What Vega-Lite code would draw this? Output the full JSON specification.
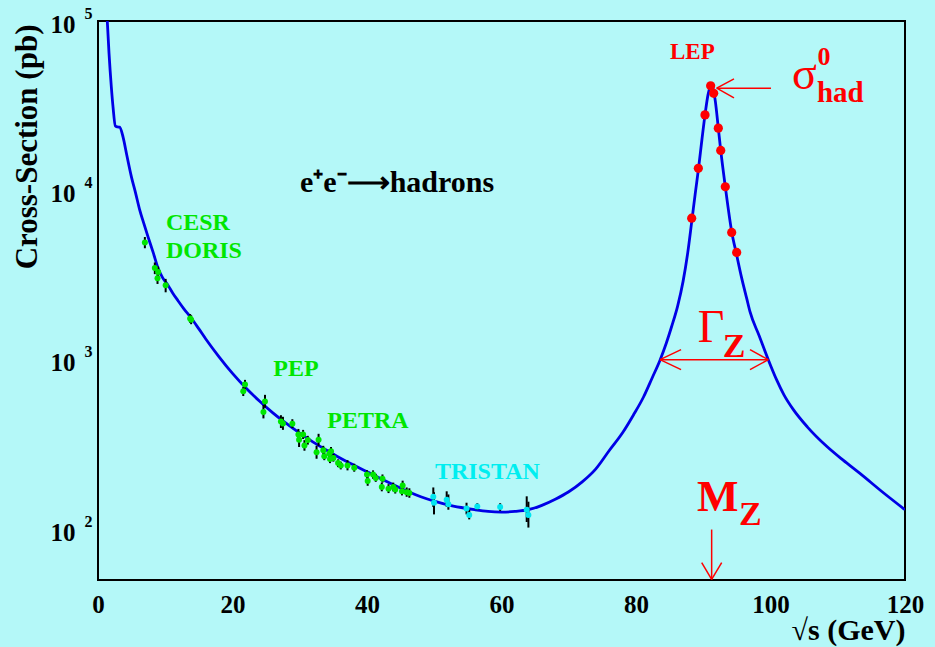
{
  "$schema": "https://vega.github.io/schema/vega-lite/v6.json",
  "width": 807,
  "height": 559,
  "autosize": {"type": "none"},
  "padding": {"left": 98, "top": 21, "right": 30, "bottom": 67},
  "background": "#b4f8f8",
  "config": {
    "view": {"stroke": "#000000", "strokeWidth": 2},
    "axis": {"grid": false, "domain": false, "ticks": false, "labelColor": "#000000", "labelFont": "Liberation Serif", "labelFontWeight": "bold", "titleFont": "Liberation Serif", "titleFontWeight": "bold", "titleColor": "#000000", "labelFlush": false, "labelOverlap": false, "labelBound": false},
    "text": {"font": "Liberation Serif"}
  },
  "datasets": {
    "curve": [
      {"x": 1.2, "s": 131000}, {"x": 1.38, "s": 100000}, {"x": 1.64, "s": 64400}, {"x": 1.98, "s": 40900}, {"x": 2.23, "s": 31200}, {"x": 2.58, "s": 24000}, {"x": 2.9, "s": 23700}, {"x": 3.22, "s": 23600}, {"x": 3.72, "s": 20700}, {"x": 4.3, "s": 16000}, {"x": 4.96, "s": 12060}, {"x": 5.6, "s": 9600}, {"x": 6.2, "s": 7670}, {"x": 6.8, "s": 6400}, {"x": 7.43, "s": 5330}, {"x": 8.2, "s": 4300}, {"x": 8.92, "s": 3480}, {"x": 9.6, "s": 3050}, {"x": 10.41, "s": 2750}, {"x": 11.1, "s": 2480}, {"x": 11.9, "s": 2230}, {"x": 12.8, "s": 1990}, {"x": 13.78, "s": 1780}, {"x": 15, "s": 1520}, {"x": 16, "s": 1330}, {"x": 18, "s": 1040}, {"x": 20, "s": 830}, {"x": 22, "s": 680}, {"x": 24, "s": 570}, {"x": 26, "s": 485}, {"x": 28, "s": 420}, {"x": 30, "s": 368}, {"x": 32, "s": 326}, {"x": 34, "s": 292}, {"x": 36, "s": 263}, {"x": 38, "s": 239}, {"x": 40, "s": 218}, {"x": 42, "s": 199}, {"x": 44, "s": 182}, {"x": 46, "s": 167}, {"x": 48, "s": 155}, {"x": 50, "s": 146}, {"x": 52, "s": 139}, {"x": 54, "s": 134}, {"x": 56, "s": 130}, {"x": 58, "s": 127}, {"x": 60, "s": 126}, {"x": 62, "s": 127}, {"x": 64, "s": 130}, {"x": 66, "s": 138}, {"x": 68, "s": 150}, {"x": 70, "s": 166}, {"x": 72, "s": 190}, {"x": 74, "s": 226}, {"x": 76, "s": 290}, {"x": 78, "s": 370}, {"x": 79.6, "s": 470}, {"x": 81.1, "s": 600}, {"x": 82.4, "s": 780}, {"x": 83.6, "s": 1000}, {"x": 84.5, "s": 1250}, {"x": 85.3, "s": 1570}, {"x": 86.2, "s": 2080}, {"x": 87.0, "s": 2900}, {"x": 87.7, "s": 4300}, {"x": 88.3, "s": 6600}, {"x": 88.8, "s": 9500}, {"x": 89.3, "s": 13500}, {"x": 89.8, "s": 19900}, {"x": 90.26, "s": 27900}, {"x": 90.7, "s": 36500}, {"x": 91.0, "s": 40500}, {"x": 91.25, "s": 41500}, {"x": 91.5, "s": 39500}, {"x": 91.8, "s": 33500}, {"x": 92.24, "s": 23300}, {"x": 92.6, "s": 17200}, {"x": 93.28, "s": 10500}, {"x": 94.23, "s": 5700}, {"x": 94.97, "s": 4150}, {"x": 95.7, "s": 3050}, {"x": 96.46, "s": 2300}, {"x": 96.95, "s": 1920}, {"x": 98.3, "s": 1390}, {"x": 99.67, "s": 1000}, {"x": 100.9, "s": 762}, {"x": 102, "s": 620}, {"x": 103.4, "s": 507}, {"x": 105.5, "s": 400}, {"x": 108.35, "s": 308}, {"x": 110.8, "s": 255}, {"x": 113.3, "s": 213}, {"x": 116.6, "s": 166}, {"x": 120, "s": 130}
    ],
    "lowe": [
      {"x": 6.97, "s": 4920, "lo": 4550, "hi": 5300}, {"x": 8.45, "s": 3480, "lo": 3200, "hi": 3750}, {"x": 8.95, "s": 3300, "lo": 3050, "hi": 3550}, {"x": 8.85, "s": 3030, "lo": 2800, "hi": 3300}, {"x": 10.06, "s": 2750, "lo": 2500, "hi": 3000}, {"x": 13.7, "s": 1750, "lo": 1650, "hi": 1860}, {"x": 13.85, "s": 1720, "lo": 1620, "hi": 1830},
      {"x": 21.86, "s": 713, "lo": 670, "hi": 760}, {"x": 21.6, "s": 650, "lo": 610, "hi": 690}, {"x": 24.83, "s": 567, "lo": 520, "hi": 620}, {"x": 24.6, "s": 491, "lo": 450, "hi": 540}, {"x": 27.2, "s": 432, "lo": 395, "hi": 470}, {"x": 27.5, "s": 420, "lo": 385, "hi": 460}, {"x": 28.9, "s": 419, "lo": 395, "hi": 445}, {"x": 29.8, "s": 361, "lo": 335, "hi": 390}, {"x": 29.9, "s": 337, "lo": 305, "hi": 370}, {"x": 30.5, "s": 361, "lo": 340, "hi": 385}, {"x": 30.7, "s": 311, "lo": 290, "hi": 335}, {"x": 31.2, "s": 335, "lo": 315, "hi": 355}, {"x": 32.5, "s": 284, "lo": 260, "hi": 310}, {"x": 32.8, "s": 337, "lo": 310, "hi": 365}, {"x": 33.5, "s": 292, "lo": 275, "hi": 310}, {"x": 33.65, "s": 269, "lo": 255, "hi": 285}, {"x": 34.4, "s": 279, "lo": 265, "hi": 295}, {"x": 34.65, "s": 288, "lo": 270, "hi": 305}, {"x": 34.5, "s": 259, "lo": 245, "hi": 275}, {"x": 35.0, "s": 263, "lo": 250, "hi": 278}, {"x": 35.7, "s": 245, "lo": 232, "hi": 258}, {"x": 36.1, "s": 237, "lo": 225, "hi": 250}, {"x": 37.1, "s": 237, "lo": 222, "hi": 255}, {"x": 38.1, "s": 230, "lo": 218, "hi": 243}, {"x": 40.0, "s": 210, "lo": 198, "hi": 222}, {"x": 40.1, "s": 192, "lo": 180, "hi": 205}, {"x": 40.9, "s": 210, "lo": 198, "hi": 222}, {"x": 41.3, "s": 200, "lo": 190, "hi": 212}, {"x": 42.3, "s": 198, "lo": 188, "hi": 210}, {"x": 42.2, "s": 177, "lo": 167, "hi": 188}, {"x": 43.2, "s": 173, "lo": 163, "hi": 184}, {"x": 43.9, "s": 177, "lo": 167, "hi": 188}, {"x": 44.2, "s": 171, "lo": 162, "hi": 181}, {"x": 45.3, "s": 181, "lo": 170, "hi": 193}, {"x": 45.2, "s": 167, "lo": 158, "hi": 177}, {"x": 45.9, "s": 165, "lo": 155, "hi": 176}, {"x": 46.3, "s": 163, "lo": 153, "hi": 174}
    ],
    "tristan": [
      {"x": 49.86, "s": 155, "lo": 135, "hi": 176}, {"x": 49.96, "s": 143, "lo": 122, "hi": 165}, {"x": 51.85, "s": 149, "lo": 135, "hi": 167}, {"x": 52.1, "s": 140, "lo": 130, "hi": 160}, {"x": 54.8, "s": 132, "lo": 122, "hi": 143}, {"x": 55.2, "s": 121, "lo": 114, "hi": 130}, {"x": 56.4, "s": 136, "lo": 130, "hi": 142}, {"x": 59.8, "s": 135, "lo": 128, "hi": 142}, {"x": 63.75, "s": 130, "lo": 110, "hi": 156}, {"x": 64.0, "s": 121, "lo": 102, "hi": 145}
    ],
    "lep": [
      {"x": 88.28, "s": 6850}, {"x": 89.27, "s": 13500}, {"x": 90.26, "s": 27900}, {"x": 91.1, "s": 41400}, {"x": 91.55, "s": 37400}, {"x": 92.24, "s": 23300}, {"x": 92.6, "s": 17200}, {"x": 93.28, "s": 10500}, {"x": 94.23, "s": 5640}, {"x": 94.97, "s": 4300}
    ],
    "arrows": [
      {"x": 92.0, "s": 40100, "x2": 100.07, "s2": 40100}, {"x": 92.0, "s": 40100, "x2": 94.57, "s2": 45500}, {"x": 92.0, "s": 40100, "x2": 94.57, "s2": 35200},
      {"x": 83.57, "s": 1000, "x2": 99.67, "s2": 1000}, {"x": 83.57, "s": 1000, "x2": 86.7, "s2": 1146}, {"x": 83.57, "s": 1000, "x2": 86.7, "s2": 873}, {"x": 99.67, "s": 1000, "x2": 96.95, "s2": 1146}, {"x": 99.67, "s": 1000, "x2": 96.95, "s2": 873},
      {"x": 91.25, "s": 99.3, "x2": 91.25, "s2": 50.4}, {"x": 91.25, "s": 50.4, "x2": 89.77, "s2": 63.4}, {"x": 91.25, "s": 50.4, "x2": 92.74, "s2": 63.4}
    ],
    "labels": [
      {"g": "green", "x": 10.1, "s": 5850, "t": "CESR"}, {"g": "green", "x": 10.1, "s": 4000, "t": "DORIS"}, {"g": "green", "x": 26.07, "s": 796, "t": "PEP"}, {"g": "green", "x": 34.1, "s": 395, "t": "PETRA"},
      {"g": "cyan", "x": 50.1, "s": 198, "t": "TRISTAN"},
      {"g": "lep", "x": 85.06, "s": 59500, "t": "LEP"},
      {"g": "black", "x": 30.04, "s": 9800, "t": "e⁺e⁻⟶hadrons"},
      {"g": "big", "x": 103.2, "s": 39700, "t": "σ"}, {"g": "big", "x": 89.2, "s": 1277, "t": "Γ"},
      {"g": "bigb", "x": 89.07, "s": 127, "t": "M"},
      {"g": "sub", "x": 92.9, "s": 1042, "t": "Z"}, {"g": "sub", "x": 95.3, "s": 106, "t": "Z"},
      {"g": "sup", "x": 107.0, "s": 54900, "t": "0"}, {"g": "had", "x": 106.9, "s": 33400, "t": "had"}
    ]
  },
  "resolve": {"axis": {"x": "independent", "y": "independent"}},
  "layer": [
    {
      "data": {"name": "curve"},
      "mark": {"type": "line", "color": "#0000e6", "strokeWidth": 2.8, "clip": true, "interpolate": "monotone"},
      "encoding": {
        "x": {"field": "x", "type": "quantitative", "scale": {"domain": [0, 120], "nice": false, "zero": false},
          "axis": {"orient": "bottom", "values": [0, 20, 40, 60, 80, 100, 120], "labelFontSize": 25, "labelPadding": 12, "title": "√s (GeV)", "titleFontSize": 30, "titleAnchor": "end", "titleAlign": "right", "titleBaseline": "alphabetic", "titleX": 807, "titleY": 59}},
        "y": {"field": "s", "type": "quantitative", "scale": {"type": "log", "domain": [50, 100000], "nice": false},
          "axis": {"orient": "left", "values": [100, 1000, 10000, 100000], "labelExpr": "'10'", "labelFontSize": 25, "labelPadding": 23, "labelOffset": 3, "labelBaseline": "middle", "title": "Cross-Section (pb)", "titleFontSize": 31, "titleAngle": -90, "titleAlign": "right", "titleBaseline": "alphabetic", "titleX": -62, "titleY": 3}}
      }
    },
    {
      "data": {"name": "curve"},
      "mark": {"type": "line", "strokeOpacity": 0},
      "encoding": {
        "x": {"field": "x", "type": "quantitative", "axis": null},
        "y": {"field": "s", "type": "quantitative", "axis": {"orient": "left", "values": [100, 1000, 10000, 100000], "labelExpr": "'' + round(log(datum.value) / LN10)", "labelFontSize": 16, "labelPadding": 6, "labelOffset": -8, "labelBaseline": "middle", "title": null}}
      }
    },
    {
      "data": {"name": "lowe"},
      "mark": {"type": "rule", "color": "#000000", "strokeWidth": 2},
      "encoding": {
        "x": {"field": "x", "type": "quantitative", "axis": null},
        "y": {"field": "lo", "type": "quantitative", "axis": null},
        "y2": {"field": "hi"}
      }
    },
    {
      "data": {"name": "tristan"},
      "mark": {"type": "rule", "color": "#000000", "strokeWidth": 2},
      "encoding": {
        "x": {"field": "x", "type": "quantitative", "axis": null},
        "y": {"field": "lo", "type": "quantitative", "axis": null},
        "y2": {"field": "hi"}
      }
    },
    {
      "data": {"name": "lowe"},
      "mark": {"type": "circle", "color": "#00e600", "size": 36, "opacity": 1},
      "encoding": {
        "x": {"field": "x", "type": "quantitative", "axis": null},
        "y": {"field": "s", "type": "quantitative", "axis": null}
      }
    },
    {
      "data": {"name": "tristan"},
      "mark": {"type": "circle", "color": "#00e6f0", "size": 36, "opacity": 1},
      "encoding": {
        "x": {"field": "x", "type": "quantitative", "axis": null},
        "y": {"field": "s", "type": "quantitative", "axis": null}
      }
    },
    {
      "data": {"name": "lep"},
      "mark": {"type": "circle", "color": "#ff0000", "size": 85, "opacity": 1},
      "encoding": {
        "x": {"field": "x", "type": "quantitative", "axis": null},
        "y": {"field": "s", "type": "quantitative", "axis": null}
      }
    },
    {
      "data": {"name": "arrows"},
      "mark": {"type": "rule", "color": "#ff0000", "strokeWidth": 1.5, "clip": false},
      "encoding": {
        "x": {"field": "x", "type": "quantitative", "axis": null},
        "y": {"field": "s", "type": "quantitative", "axis": null},
        "x2": {"field": "x2"},
        "y2": {"field": "s2"}
      }
    },
    {
      "data": {"name": "labels"},
      "transform": [{"filter": "datum.g == 'green'"}],
      "mark": {"type": "text", "color": "#00e600", "fontSize": 24, "fontWeight": "bold", "align": "left", "baseline": "alphabetic"},
      "encoding": {"x": {"field": "x", "type": "quantitative", "axis": null}, "y": {"field": "s", "type": "quantitative", "axis": null}, "text": {"field": "t"}}
    },
    {
      "data": {"name": "labels"},
      "transform": [{"filter": "datum.g == 'cyan'"}],
      "mark": {"type": "text", "color": "#00eef0", "fontSize": 24, "fontWeight": "bold", "align": "left", "baseline": "alphabetic"},
      "encoding": {"x": {"field": "x", "type": "quantitative", "axis": null}, "y": {"field": "s", "type": "quantitative", "axis": null}, "text": {"field": "t"}}
    },
    {
      "data": {"name": "labels"},
      "transform": [{"filter": "datum.g == 'lep'"}],
      "mark": {"type": "text", "color": "#ff0000", "fontSize": 23, "fontWeight": "bold", "align": "left", "baseline": "alphabetic"},
      "encoding": {"x": {"field": "x", "type": "quantitative", "axis": null}, "y": {"field": "s", "type": "quantitative", "axis": null}, "text": {"field": "t"}}
    },
    {
      "data": {"name": "labels"},
      "transform": [{"filter": "datum.g == 'black'"}],
      "mark": {"type": "text", "color": "#000000", "fontSize": 30, "fontWeight": "bold", "align": "left", "baseline": "alphabetic"},
      "encoding": {"x": {"field": "x", "type": "quantitative", "axis": null}, "y": {"field": "s", "type": "quantitative", "axis": null}, "text": {"field": "t"}}
    },
    {
      "data": {"name": "labels"},
      "transform": [{"filter": "datum.g == 'big'"}],
      "mark": {"type": "text", "color": "#ff0000", "fontSize": 46, "fontWeight": "normal", "align": "left", "baseline": "alphabetic"},
      "encoding": {"x": {"field": "x", "type": "quantitative", "axis": null}, "y": {"field": "s", "type": "quantitative", "axis": null}, "text": {"field": "t"}}
    },
    {
      "data": {"name": "labels"},
      "transform": [{"filter": "datum.g == 'bigb'"}],
      "mark": {"type": "text", "color": "#ff0000", "fontSize": 44, "fontWeight": "bold", "align": "left", "baseline": "alphabetic"},
      "encoding": {"x": {"field": "x", "type": "quantitative", "axis": null}, "y": {"field": "s", "type": "quantitative", "axis": null}, "text": {"field": "t"}}
    },
    {
      "data": {"name": "labels"},
      "transform": [{"filter": "datum.g == 'sub'"}],
      "mark": {"type": "text", "color": "#ff0000", "fontSize": 34, "fontWeight": "bold", "align": "left", "baseline": "alphabetic"},
      "encoding": {"x": {"field": "x", "type": "quantitative", "axis": null}, "y": {"field": "s", "type": "quantitative", "axis": null}, "text": {"field": "t"}}
    },
    {
      "data": {"name": "labels"},
      "transform": [{"filter": "datum.g == 'sup'"}],
      "mark": {"type": "text", "color": "#ff0000", "fontSize": 26, "fontWeight": "bold", "align": "left", "baseline": "alphabetic"},
      "encoding": {"x": {"field": "x", "type": "quantitative", "axis": null}, "y": {"field": "s", "type": "quantitative", "axis": null}, "text": {"field": "t"}}
    },
    {
      "data": {"name": "labels"},
      "transform": [{"filter": "datum.g == 'had'"}],
      "mark": {"type": "text", "color": "#ff0000", "fontSize": 29, "fontWeight": "bold", "align": "left", "baseline": "alphabetic"},
      "encoding": {"x": {"field": "x", "type": "quantitative", "axis": null}, "y": {"field": "s", "type": "quantitative", "axis": null}, "text": {"field": "t"}}
    }
  ]
}
